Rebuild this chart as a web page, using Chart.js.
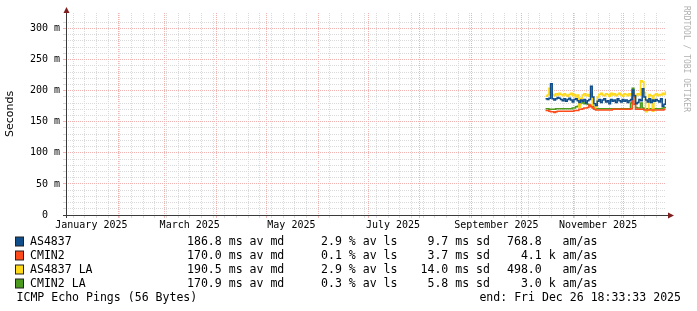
<!DOCTYPE html>
<html lang="en">
<head>
<meta charset="utf-8">
<title>ICMP Echo Pings</title>
<script src="https://cdn.jsdelivr.net/npm/chart.js"></script>
<style>
  html, body { margin: 0; padding: 0; background: #fff; }
  canvas { display: block; }
</style>
</head>
<body>
<canvas id="pingChart" width="697" height="311"></canvas>
<script>
// 360 day window ending Fri Dec 26 18:33:33 2025
const DAY = 86400000;
const endTime = Date.UTC(2025, 11, 26, 18, 33, 33);
const startTime = endTime - 360 * DAY;
const firstDay = Date.UTC(2025, 9, 15); // first daily value with data (Oct 15)

// median RTT per day, ms (Oct 15 .. Dec 26)
const as4837 = [
  187, 186, 188, 211, 187, 185, 187, 189, 188, 186,
  184, 187, 183, 186, 188, 185, 182, 186, 187, 184,
  181, 185, 183, 186, 180, 184, 186, 207, 190, 179,
  176, 183, 186, 181, 185, 187, 182, 184, 179, 186,
  183, 185, 181, 187, 184, 182, 186, 183, 185, 181,
  184, 186, 201, 192, 179, 181, 186, 184, 203, 190,
  185, 182, 187, 181, 185, 183, 186, 184, 182, 187,
  175, 178, 187
];
const cmin2 = [
  168, 168, 167, 166, 166, 165, 166, 167, 167, 167,
  167, 167, 167, 167, 167, 167, 167, 168, 168, 168,
  170, 170, 171, 172, 172, 173, 177, 174, 172, 170,
  169, 169, 169, 169, 169, 169, 169, 169, 169, 169,
  170, 170, 170, 170, 170, 170, 170, 170, 170, 170,
  170, 171, 195, 178, 170, 170, 170, 170, 170, 169,
  169, 169, 169, 169, 169, 169, 169, 169, 169, 169,
  169, 170, 170
];
const as4837La = [
  191, 193, 204, 196, 194, 192, 195, 193, 196, 194,
  192, 195, 193, 191, 194, 196, 192, 194, 190, 193,
  173, 188, 193, 195, 192, 194, 191, 196, 172, 171,
  174, 190, 194, 196, 193, 192, 195, 194, 191, 196,
  193, 195, 192, 194, 196, 193, 191, 195, 194, 192,
  195, 193, 190, 194, 192, 195, 193, 216, 214, 197,
  166, 168, 194, 192, 167, 193, 195, 192, 194, 193,
  196, 194, 199
];
const cmin2La = [
  171, 171, 170, 170, 170, 170, 171, 171, 171, 171,
  171, 171, 171, 171, 171, 171, 172, 172, 174, 175,
  178, 180, 181, 179, 180, 178, 176, 176, 175, 172,
  171, 171, 171, 171, 171, 171, 171, 171, 171, 171,
  171, 171, 171, 171, 171, 171, 171, 171, 171, 171,
  171, 180, 204, 190, 173, 172, 172, 180, 172, 171,
  171, 171, 171, 171, 171, 171, 171, 171, 171, 171,
  172, 173, 174
];

// legend figures
const seriesNames = ['AS4837', 'CMIN2', 'AS4837 LA', 'CMIN2 LA'];
const seriesColors = ['#104e8b', '#ff4a1a', '#ffd91a', '#4c9a1e'];
const avgMedian = [186.8, 170.0, 190.5, 170.9];
const avgLoss = [2.9, 0.1, 2.9, 0.3];
const stdDev = [9.7, 3.7, 14.0, 5.8];
const amPerAs = [768.8, 4100, 498.0, 3000];

// axis labels
const xLabelText = ['January 2025', 'March 2025', 'May 2025', 'July 2025', 'September 2025', 'November 2025'];
const xLabelMonth = [0, 2, 4, 6, 8, 10];
const yMax = 325;

const toDays = t => (t - startTime) / DAY;

function points(values) {
  return values.map((v, i) => ({ x: toDays(firstDay + i * DAY + DAY / 2), y: v }));
}

// x ticks: month starts (major), sundays (minor), mid-month label positions
const xTicks = [];
const monthSet = new Set();
for (let m = 0; m < 12; m++) {
  const t = Date.UTC(2025, m, 1);
  monthSet.add(t);
  xTicks.push({ value: toDays(t), kind: 'major' });
}
for (let t = Date.UTC(2025, 0, 5); t < endTime; t += 7 * DAY) {
  if (!monthSet.has(t)) xTicks.push({ value: toDays(t), kind: 'minor' });
}
xLabelMonth.forEach((m, i) => {
  xTicks.push({ value: toDays(Date.UTC(2025, m, 16)), kind: 'label', text: xLabelText[i] });
});
xTicks.sort((a, b) => a.value - b.value);

const MINOR = '#dadada';
const MAJOR = 'rgb(241,178,178)';

const rrdDecor = {
  id: 'rrdDecor',
  afterDraw(chart) {
    const ctx = chart.ctx;
    const a = chart.chartArea;
    ctx.save();

    // axes
    ctx.strokeStyle = '#3a3a3a';
    ctx.lineWidth = 1;
    ctx.beginPath();
    ctx.moveTo(a.left - 3, a.bottom + 0.5);
    ctx.lineTo(a.right + 3, a.bottom + 0.5);
    ctx.moveTo(a.left + 0.5, a.bottom + 3);
    ctx.lineTo(a.left + 0.5, a.top);
    ctx.stroke();

    // arrows
    ctx.fillStyle = '#801f1f';
    ctx.beginPath();
    ctx.moveTo(a.right + 2, a.bottom - 2.5);
    ctx.lineTo(a.right + 8, a.bottom + 0.5);
    ctx.lineTo(a.right + 2, a.bottom + 3.5);
    ctx.closePath();
    ctx.fill();
    ctx.beginPath();
    ctx.moveTo(a.left - 2.5, a.top);
    ctx.lineTo(a.left + 0.5, a.top - 6);
    ctx.lineTo(a.left + 3.5, a.top);
    ctx.closePath();
    ctx.fill();

    // legend
    ctx.font = '11.55px "DejaVu Sans Mono"';
    ctx.textBaseline = 'middle';
    ctx.textAlign = 'left';
    seriesNames.forEach((name, i) => {
      const y = 241.5 + i * 14;
      ctx.fillStyle = seriesColors[i];
      ctx.fillRect(15.5, y - 4.5, 8, 9);
      ctx.strokeStyle = '#222';
      ctx.strokeRect(15.5, y - 4.5, 8, 9);
      ctx.fillStyle = '#000';
      ctx.fillText(name, 30, y);
      ctx.fillText(avgMedian[i].toFixed(1).padStart(5) + ' ms av md', 187, y);
      ctx.fillText(avgLoss[i].toFixed(1) + ' % av ls', 321, y);
      ctx.fillText(stdDev[i].toFixed(1).padStart(4) + ' ms sd', 420.5, y);
      const v = amPerAs[i];
      const s = v >= 1000 ? (v / 1000).toFixed(1).padStart(5) + ' k' : v.toFixed(1).padStart(5) + '  ';
      ctx.fillText(s + ' am/as', 507, y);
    });
    ctx.fillText('ICMP Echo Pings (56 Bytes)', 16.5, 297.5);
    ctx.textAlign = 'right';
    ctx.fillText('end: Fri Dec 26 18:33:33 2025', 681, 297.5);

    // watermark
    ctx.translate(686, 6);
    ctx.rotate(Math.PI / 2);
    ctx.textAlign = 'left';
    ctx.font = '8px "DejaVu Sans Mono"';
    ctx.fillStyle = '#b0b0b0';
    ctx.fillText('RRDTOOL / TOBI OETIKER', 0, 0);
    ctx.restore();
  }
};

Chart.defaults.color = '#000';

const line = (label, values, color) => ({
  label: label,
  data: points(values),
  borderColor: color,
  backgroundColor: color,
  borderWidth: 1.5,
  pointRadius: 0,
  stepped: 'before',
  fill: false
});

new Chart(document.getElementById('pingChart'), {
  type: 'line',
  data: {
    datasets: [
      line(seriesNames[0], as4837, seriesColors[0]),
      line(seriesNames[1], cmin2, seriesColors[1]),
      line(seriesNames[2], as4837La, seriesColors[2]),
      line(seriesNames[3], cmin2La, seriesColors[3])
    ]
  },
  options: {
    responsive: false,
    animation: false,
    devicePixelRatio: 1,
    layout: { padding: { top: 13, right: 31, left: 0, bottom: 0 } },
    plugins: { legend: { display: false }, tooltip: { enabled: false } },
    scales: {
      x: {
        type: 'linear',
        min: 0,
        max: 360,
        bounds: 'data',
        afterBuildTicks: scale => { scale.ticks = xTicks.map(t => Object.assign({}, t)); },
        afterFit: scale => { scale.height = 96; },
        border: { display: false, dash: [1, 1] },
        grid: {
          color: c => c.tick.kind === 'major' ? MAJOR : (c.tick.kind === 'minor' ? MINOR : 'rgba(0,0,0,0)'),
          tickColor: c => c.tick.kind === 'major' ? MAJOR : (c.tick.kind === 'minor' ? MINOR : 'rgba(0,0,0,0)'),
          tickLength: 3
        },
        ticks: {
          autoSkip: false,
          maxRotation: 0,
          padding: 1,
          font: { family: 'DejaVu Sans Mono', size: 10 },
          callback: function (value, index, ticks) {
            return ticks[index].kind === 'label' ? ticks[index].text : '';
          }
        }
      },
      y: {
        min: 0,
        max: yMax,
        afterBuildTicks: scale => { scale.ticks = scale.ticks.filter(t => t.value % 10 === 0); },
        afterFit: scale => { scale.width = 66; },
        border: { display: false, dash: [1, 1] },
        grid: {
          color: c => c.tick.value % 50 === 0 ? MAJOR : MINOR,
          tickColor: c => c.tick.value % 50 === 0 ? MAJOR : MINOR,
          tickLength: 3
        },
        ticks: {
          stepSize: 10,
          autoSkip: false,
          padding: 3,
          font: { family: 'DejaVu Sans Mono', size: 10 },
          callback: v => v % 50 !== 0 ? '' : (v === 0 ? '0  ' : v + ' m')
        },
        title: {
          display: true,
          text: 'Seconds',
          font: { family: 'DejaVu Sans', size: 11 },
          padding: { top: 4, bottom: 0 }
        }
      }
    }
  },
  plugins: [rrdDecor]
});
</script>
</body>
</html>
